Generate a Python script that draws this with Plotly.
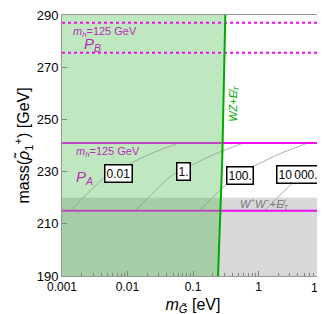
import numpy as np
import plotly.graph_objects as go

# ---------------- data ----------------
x_range = [0.001, 10]          # m_G~ [eV]
y_range = [190, 290]           # mass [GeV]
x_tick_vals = [0.001, 0.01, 0.1, 1, 10]
x_tick_text = ["0.001", "0.01", "0.1", "1", "10"]
y_tick_vals = [190, 210, 230, 250, 270, 290]

# WZ + missing E_T boundary (green line)
wz_mg = [0.241, 0.280, 0.311]
wz_mass = [190, 235, 290]

# W+W- + missing E_T threshold (gray region top)
ww_mass = 220

# m_h = 125 GeV lines
pa_lines = [215, 241]        # solid (P_A)
pb_lines = [275.5, 287]      # dotted (P_B)

# gray contours (m_G [eV], mass [GeV]) and labels
contour_mass = [215, 222.7, 228, 230.5, 232.8, 236.8, 240.5, 241]
contour_1 = [0.00134, 0.00270, 0.00458, 0.00652, 0.0103, 0.0223, 0.0537, 0.0598]
contour_2 = [0.0132, 0.0265, 0.0450, 0.0640, 0.101, 0.219, 0.527, 0.587]
contour_3 = [0.126, 0.255, 0.433, 0.615, 0.970, 2.10, 5.07, 5.65]
contour_4 = [1.24, 2.51, 4.26, 6.05, 9.55, 20.7, 50.0, 55.0]
contour_labels = ["0.01", "1.", "100.", "10\u2009000."]
contour_label_mg = [0.00734, 0.0716, 0.531, 4.01]
contour_label_mass = [229.3, 230.1, 228.6, 228.8]

# ---------------- colours ----------------
magenta = "rgb(245,10,245)"
magenta_in_green = "rgb(190,72,190)"
purple_txt = "rgb(185,45,185)"
green_line = "rgb(0,170,0)"
green_fill = "rgba(75,189,75,0.35)"
gray_fill = "rgb(216,216,216)"
contour_col = "rgb(150,150,150)"

fig = go.Figure()

# gray WW region (full width; green overlays give dark green)
fig.add_trace(go.Scatter(
    x=[x_range[0], x_range[1], x_range[1], x_range[0], x_range[0]],
    y=[y_range[0], y_range[0], ww_mass, ww_mass, y_range[0]],
    fill="toself", fillcolor=gray_fill, line=dict(width=0), mode="lines",
    hoverinfo="skip", showlegend=False))

# green excluded region
gx = [x_range[0]] + wz_mg + [x_range[0], x_range[0]]
gy = [y_range[0]] + wz_mass + [y_range[1], y_range[0]]
fig.add_trace(go.Scatter(x=gx, y=gy, fill="toself", fillcolor=green_fill,
                         line=dict(width=0), mode="lines",
                         hoverinfo="skip", showlegend=False))

# contours
for cx in [contour_1, contour_2, contour_3, contour_4]:
    fig.add_trace(go.Scatter(x=cx, y=contour_mass, mode="lines",
                             line=dict(color=contour_col, width=0.8),
                             line_shape="spline",
                             hoverinfo="skip", showlegend=False))

# solid m_h lines: seen through the green region on the left
for m in pa_lines:
    xb = 10 ** np.interp(m, wz_mass, np.log10(wz_mg))
    fig.add_trace(go.Scatter(x=[x_range[0], xb], y=[m, m], mode="lines",
                             line=dict(color=magenta_in_green, width=2),
                             hoverinfo="skip", showlegend=False))
    fig.add_trace(go.Scatter(x=[xb, x_range[1]], y=[m, m], mode="lines",
                             line=dict(color=magenta, width=2),
                             hoverinfo="skip", showlegend=False))

# dotted m_h lines (above green)
for m in pb_lines:
    fig.add_trace(go.Scatter(x=x_range, y=[m, m], mode="lines",
                             line=dict(color=magenta, width=2, dash="dot"),
                             hoverinfo="skip", showlegend=False))

# green boundary line
fig.add_trace(go.Scatter(x=wz_mg, y=wz_mass, mode="lines",
                         line=dict(color=green_line, width=2),
                         hoverinfo="skip", showlegend=False))

font_family = "Liberation Sans, Arial, sans-serif"
ann = []
for t, xm, ym in zip(contour_labels, contour_label_mg, contour_label_mass):
    ann.append(dict(x=np.log10(xm), y=ym, text=t, showarrow=False,
                    font=dict(size=12, color="black", family=font_family),
                    bgcolor="white", bordercolor="black", borderwidth=1.5,
                    borderpad=1))

ann += [
    dict(x=np.log10(0.00137), y=283.6, text="<i>m<sub>h</sub></i>=125 GeV",
         xanchor="left", showarrow=False,
         font=dict(size=11, color=purple_txt, family=font_family)),
    dict(x=np.log10(0.00297), y=278.6, text="<i>P<sub>B</sub></i>",
         showarrow=False, font=dict(size=15, color=purple_txt, family=font_family)),
    dict(x=np.log10(0.00152), y=237.4, text="<i>m<sub>h</sub></i>=125 GeV",
         xanchor="left", showarrow=False,
         font=dict(size=11, color=purple_txt, family=font_family)),
    dict(x=np.log10(0.00217), y=227.7, text="<i>P<sub>A</sub></i>",
         showarrow=False, font=dict(size=15, color=purple_txt, family=font_family)),
    dict(x=np.log10(0.420), y=256.3, text="<i>WZ</i>+<i>E\u0338<sub>T</sub></i>",
         textangle=-90, showarrow=False,
         font=dict(size=11, color=green_line, family=font_family)),
    dict(x=np.log10(1.245), y=217.6,
         text="<i>W<sup>+</sup>W<sup>\u2212</sup></i>+<i>E\u0338<sub>T</sub></i>",
         showarrow=False,
         font=dict(size=11, color="rgb(120,120,120)", family=font_family)),
    # y axis title
    dict(x=0, xref="paper", y=0.5, yref="paper", xshift=-39,
         xanchor="center", yanchor="middle", textangle=-90, showarrow=False,
         text="mass(<i>\u03c1\u0303</i><sub>1</sub><sup>+</sup>) [GeV]",
         font=dict(size=16, color="black", family=font_family)),
]

# the tick label sitting on the right frame edge is written in paper
# coordinates so it is not dropped at the edge of the axis range
for v, t in zip(x_tick_vals, x_tick_text):
    if v == x_range[1]:
        ann.append(dict(x=1, xref="paper", y=0, yref="paper", yshift=-3, xshift=3,
                        xanchor="right", yanchor="top", showarrow=False, text=t,
                        font=dict(size=12, color="black", family=font_family)))
shown_vals = [v for v in x_tick_vals if v != x_range[1]]
shown_text = [t for v, t in zip(x_tick_vals, x_tick_text) if v != x_range[1]]

fig.update_layout(
    width=325, height=314,
    margin=dict(l=54, r=9, t=7, b=46, autoexpand=False),
    paper_bgcolor="white", plot_bgcolor="white",
    font=dict(family=font_family, color="black"),
    annotations=ann,
    xaxis=dict(type="log", range=[np.log10(x_range[0]), np.log10(x_range[1])],
               tickvals=shown_vals, ticktext=shown_text,
               ticks="inside", ticklen=5, tickcolor="rgb(130,130,130)",
               minor=dict(ticks="inside", ticklen=3, dtick="D1",
                          tickcolor="rgb(130,130,130)"),
               showgrid=False, zeroline=False, automargin=False,
               ticklabeloverflow="allow",
               showline=True, mirror=True, linecolor="rgb(150,150,150)", linewidth=1,
               tickfont=dict(size=12),
               title=dict(text="<i>m<sub>G\u0303</sub></i> [eV]",
                          font=dict(size=16), standoff=5)),
    yaxis=dict(range=y_range, tickvals=y_tick_vals,
               ticks="inside", ticklen=5, tickcolor="rgb(130,130,130)",
               showgrid=False, zeroline=False, automargin=False,
               ticklabeloverflow="allow",
               showline=True, mirror=True, linecolor="rgb(150,150,150)", linewidth=1,
               tickfont=dict(size=13)),
)

fig.write_html("out.html")
